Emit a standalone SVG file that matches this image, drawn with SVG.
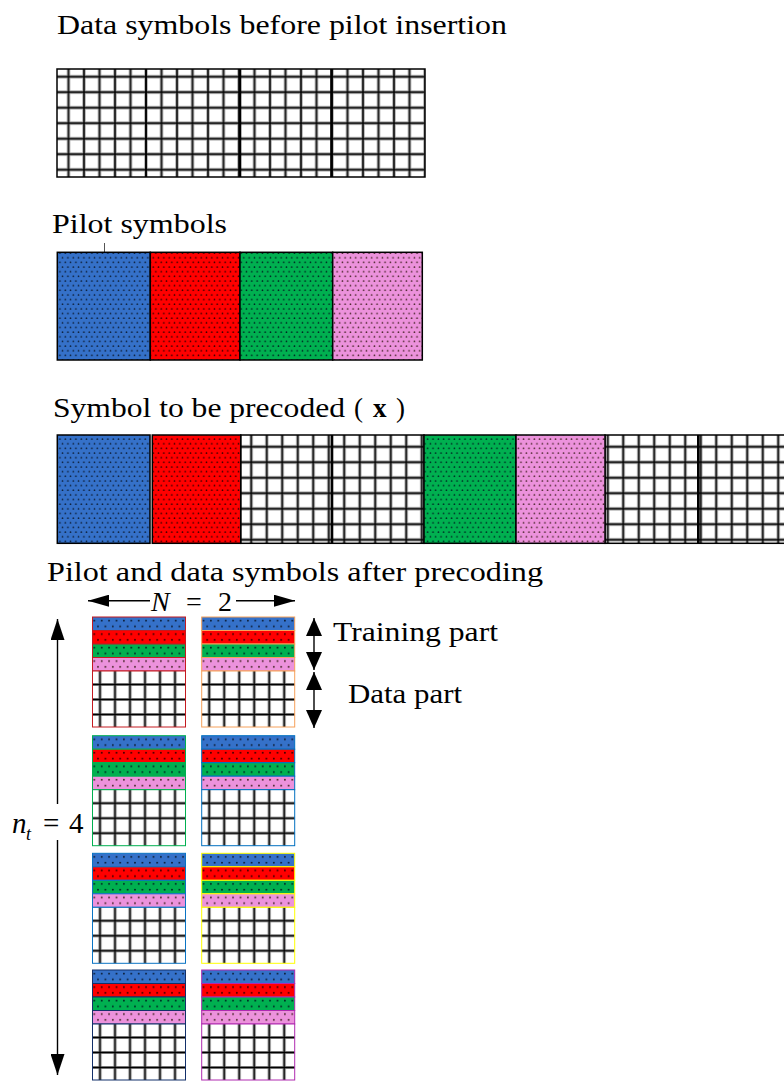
<svg xmlns="http://www.w3.org/2000/svg" xmlns:xlink="http://www.w3.org/1999/xlink" width="784" height="1081" viewBox="0 0 784 1081">
  <style>
    .t { font-family: "Liberation Serif", "Times New Roman", serif; font-size: 27px; fill: #000; }
    .it { font-style: italic; }
    .bd { font-weight: bold; }
    .box { stroke: #000; stroke-width: 1.5; }
    .div { stroke: #000; stroke-width: 2.6; fill: none; }
    .blk rect { stroke-width: 1.6; }
    .arr { stroke: #000; stroke-width: 1.4; fill: none; }
  </style>
  <defs>
    <!-- data grid, large cells -->
    <pattern id="gBig" patternUnits="userSpaceOnUse" width="15.5" height="15.5">
      <rect width="15.5" height="15.5" fill="#fff"/>
      <path d="M7.75 0V15.5M0 7.75H15.5" stroke="#9a9a9a" stroke-width="3.2"/>
      <path d="M7.75 0V15.5M0 7.75H15.5" stroke="#000" stroke-width="1.4"/>
    </pattern>
    <!-- data grid, stacked blocks -->
    <pattern id="gSm" patternUnits="userSpaceOnUse" width="15" height="15">
      <rect width="15" height="15" fill="#fff"/>
      <path d="M7.5 0V15M0 7.5H15" stroke="#9a9a9a" stroke-width="3.2"/>
      <path d="M7.5 0V15M0 7.5H15" stroke="#000" stroke-width="1.4"/>
    </pattern>
    <!-- dotted pilot fills, large -->
    <pattern id="pB" patternUnits="userSpaceOnUse" width="5.33" height="9.3">
      <rect width="5.33" height="9.3" fill="#3571c9"/>
      <circle cx="1.3" cy="2" r="0.8" fill="#0a1a30"/><circle cx="3.97" cy="6.65" r="0.8" fill="#0a1a30"/>
    </pattern>
    <pattern id="pR" patternUnits="userSpaceOnUse" width="5.33" height="9.3">
      <rect width="5.33" height="9.3" fill="#ff0000"/>
      <circle cx="1.3" cy="2" r="0.8" fill="#300"/><circle cx="3.97" cy="6.65" r="0.8" fill="#300"/>
    </pattern>
    <pattern id="pG" patternUnits="userSpaceOnUse" width="5.33" height="9.3">
      <rect width="5.33" height="9.3" fill="#00b050"/>
      <circle cx="1.3" cy="2" r="0.8" fill="#022"/><circle cx="3.97" cy="6.65" r="0.8" fill="#022"/>
    </pattern>
    <pattern id="pP" patternUnits="userSpaceOnUse" width="5.33" height="9.3">
      <rect width="5.33" height="9.3" fill="#ec92dc"/>
      <circle cx="1.3" cy="2" r="0.8" fill="#422"/><circle cx="3.97" cy="6.65" r="0.8" fill="#422"/>
    </pattern>
    <!-- dotted pilot fills, strips -->
    <pattern id="sB" patternUnits="userSpaceOnUse" width="7.4" height="13.5">
      <rect width="7.4" height="13.5" fill="#3571c9"/>
      <circle cx="1.8" cy="3.6" r="0.9" fill="#0a1a30"/><circle cx="5.5" cy="9.4" r="0.9" fill="#0a1a30"/>
    </pattern>
    <pattern id="sR" patternUnits="userSpaceOnUse" width="7.4" height="13.5">
      <rect width="7.4" height="13.5" fill="#ff0000"/>
      <circle cx="1.8" cy="3.6" r="0.9" fill="#300"/><circle cx="5.5" cy="9.4" r="0.9" fill="#300"/>
    </pattern>
    <pattern id="sG" patternUnits="userSpaceOnUse" width="7.4" height="13.5">
      <rect width="7.4" height="13.5" fill="#00b050"/>
      <circle cx="1.8" cy="3.6" r="0.9" fill="#022"/><circle cx="5.5" cy="9.4" r="0.9" fill="#022"/>
    </pattern>
    <pattern id="sP" patternUnits="userSpaceOnUse" width="7.4" height="13.5">
      <rect width="7.4" height="13.5" fill="#ec92dc"/>
      <circle cx="1.8" cy="3.6" r="0.9" fill="#422"/><circle cx="5.5" cy="9.4" r="0.9" fill="#422"/>
    </pattern>
    <!-- arrowheads -->
    <marker id="ahN" markerUnits="userSpaceOnUse" markerWidth="21" markerHeight="12" refX="21" refY="6" orient="auto">
      <path d="M0 0L21 6L0 12z" fill="#000"/>
    </marker>
    <marker id="ahV" markerUnits="userSpaceOnUse" markerWidth="21" markerHeight="14" refX="21" refY="7" orient="auto">
      <path d="M0 0L21 7L0 14z" fill="#000"/>
    </marker>
    <marker id="ahD" markerUnits="userSpaceOnUse" markerWidth="18" markerHeight="16" refX="18" refY="8" orient="auto-start-reverse">
      <path d="M0 0L18 8L0 16z" fill="#000"/>
    </marker>
    <!-- one precoded block: four pilot strips over a data grid -->
    <g id="stack">
      <rect x="0" y="0" width="93" height="13.5" fill="url(#sB)"/>
      <rect x="0" y="13.5" width="93" height="13.5" fill="url(#sR)"/>
      <rect x="0" y="27" width="93" height="13.5" fill="url(#sG)"/>
      <rect x="0" y="40.5" width="93" height="13.5" fill="url(#sP)"/>
      <rect x="0" y="54" width="93" height="56" fill="url(#gSm)"/>
    </g>
  </defs>

  <rect width="784" height="1081" fill="#fff"/>

  <!-- labels -->
  <g id="labels" font-family="Liberation Serif, Times New Roman, serif">
    <text class="t" x="57" y="34" textLength="450" lengthAdjust="spacingAndGlyphs">Data symbols before pilot insertion</text>
    <text class="t" x="52" y="233" textLength="175" lengthAdjust="spacingAndGlyphs">Pilot symbols</text>
    <text class="t" x="53" y="417" textLength="292" lengthAdjust="spacingAndGlyphs">Symbol to be precoded</text>
    <text class="t" x="354" y="417">(</text>
    <text class="t bd" x="373" y="417">x</text>
    <text class="t" x="396" y="417">)</text>
    <text class="t" x="47" y="581" textLength="496" lengthAdjust="spacingAndGlyphs">Pilot and data symbols after precoding</text>
    <text class="t it" x="151" y="611" style="font-size:28px">N</text>
    <text class="t" x="186" y="611" style="font-size:28px">=</text>
    <text class="t" x="218" y="611" style="font-size:28px">2</text>
    <text class="t" x="333" y="641" textLength="165" lengthAdjust="spacingAndGlyphs">Training part</text>
    <text class="t" x="348" y="703" textLength="114" lengthAdjust="spacingAndGlyphs">Data part</text>
    <text class="t it" x="12" y="833" style="font-size:29px">n</text>
    <text class="t it" x="26" y="840" style="font-size:18px">t</text>
    <text class="t" x="43" y="833" style="font-size:29px">=</text>
    <text class="t" x="69" y="833" style="font-size:29px">4</text>
  </g>

  <!-- data symbols before pilot insertion -->
  <g id="data-row">
    <g transform="translate(-1.25,6.95)">
      <rect x="58.25" y="62.05" width="367.75" height="108" fill="url(#gBig)"/>
    </g>
    <rect class="box" x="57" y="69" width="368" height="108" fill="none"/>
    <line x1="146" y1="69" x2="146" y2="177" stroke="#000" stroke-width="1.6"/>
    <line class="div" x1="240" y1="69" x2="240" y2="177"/>
    <line class="div" x1="331.5" y1="69" x2="331.5" y2="177"/>
  </g>

  <!-- pilot symbols -->
  <g id="pilot-row">
    <line x1="104.5" y1="243" x2="104.5" y2="252" stroke="#555" stroke-width="1"/>
    <rect class="box" x="57.3" y="252.3" width="93" height="107.7" fill="url(#pB)"/>
    <rect class="box" x="150.3" y="252.3" width="89.7" height="107.7" fill="url(#pR)"/>
    <rect class="box" x="240" y="252.3" width="92.7" height="107.7" fill="url(#pG)"/>
    <rect class="box" x="332.7" y="252.3" width="89.6" height="107.7" fill="url(#pP)"/>
  </g>

  <!-- symbol to be precoded -->
  <g id="precode-row">
    <g transform="translate(11,5)">
      <rect x="229.7" y="430" width="183" height="108.3" fill="url(#gBig)"/>
      <rect x="594" y="430" width="185" height="108.3" fill="url(#gBig)"/>
    </g>
    <rect class="box" x="240.7" y="435" width="183.3" height="108.3" fill="none"/>
    <rect class="box" x="605" y="435" width="185" height="108.3" fill="none"/>
    <line class="div" x1="332" y1="435" x2="332" y2="543.3"/>
    <line class="div" x1="698.3" y1="435" x2="698.3" y2="543.3"/>
    <rect class="box" x="57.3" y="435" width="92.7" height="108.3" fill="url(#pB)" stroke-width="2.2"/>
    <rect class="box" x="152.3" y="435" width="88.4" height="108.3" fill="url(#pR)" stroke="#333"/>
    <rect class="box" x="424" y="435" width="92" height="108.3" fill="url(#pG)"/>
    <rect class="box" x="516" y="435" width="89" height="108.3" fill="url(#pP)" stroke="#444"/>
  </g>

  <!-- precoded blocks: N = 2 columns, n_t = 4 rows -->
  <g id="blk-r1-c1" class="blk" transform="translate(92.5,617)" stroke="#c41a20"><use href="#stack"/></g>
  <g id="blk-r1-c2" class="blk" transform="translate(201.7,617)" stroke="#f6a15a"><use href="#stack"/></g>
  <g id="blk-r2-c1" class="blk" transform="translate(92.5,735.7)" stroke="#00b050"><use href="#stack"/></g>
  <g id="blk-r2-c2" class="blk" transform="translate(201.7,735.7)" stroke="#0070c0"><use href="#stack"/></g>
  <g id="blk-r3-c1" class="blk" transform="translate(92.5,853.3)" stroke="#0a74c4"><use href="#stack"/></g>
  <g id="blk-r3-c2" class="blk" transform="translate(201.7,853.3)" stroke="#ffff00"><use href="#stack"/></g>
  <g id="blk-r4-c1" class="blk" transform="translate(92.5,970)" stroke="#13306a"><use href="#stack"/></g>
  <g id="blk-r4-c2" class="blk" transform="translate(201.7,970)" stroke="#b02ab0"><use href="#stack"/></g>

  <!-- arrows -->
  <g id="connectors">
    <line class="arr" x1="150" y1="600.7" x2="88" y2="600.7" marker-end="url(#ahN)"/>
    <line class="arr" x1="236" y1="600.7" x2="295" y2="600.7" marker-end="url(#ahN)"/>
    <line class="arr" x1="57.5" y1="804" x2="57.5" y2="619" marker-end="url(#ahV)"/>
    <line class="arr" x1="57.5" y1="840" x2="57.5" y2="1075" marker-end="url(#ahV)"/>
    <line class="arr" x1="314" y1="618" x2="314" y2="670" stroke-width="1.6" marker-start="url(#ahD)" marker-end="url(#ahD)"/>
    <line class="arr" x1="314" y1="672" x2="314" y2="728" stroke-width="1.6" marker-start="url(#ahD)" marker-end="url(#ahD)"/>
  </g>
</svg>
